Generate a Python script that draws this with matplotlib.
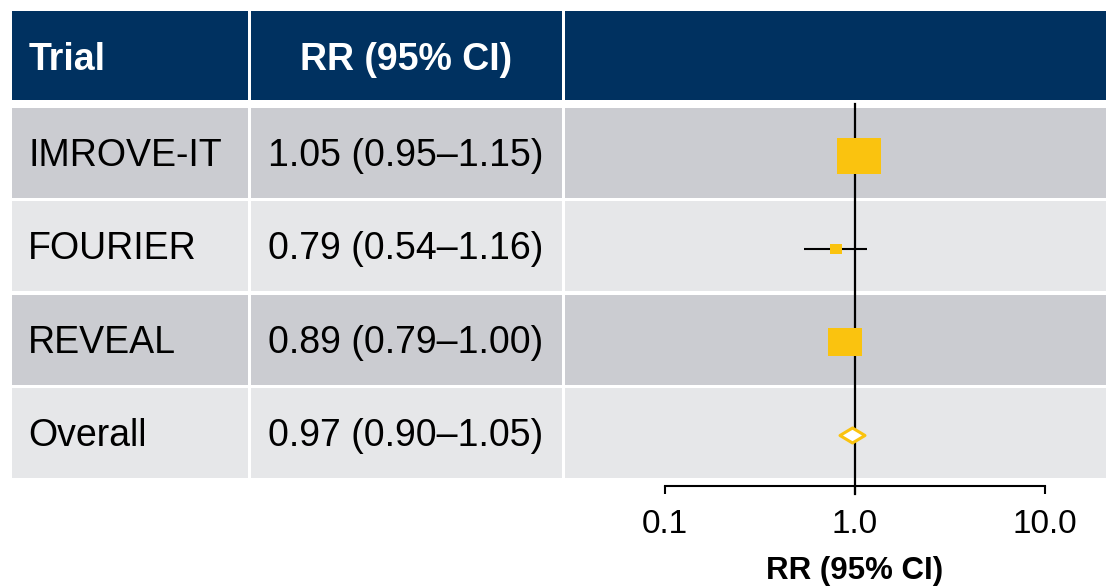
import numpy as np
import matplotlib
matplotlib.use("Agg")
import matplotlib.pyplot as plt
from matplotlib.patches import Rectangle
from matplotlib.path import Path

# ---- data -------------------------------------------------------------
trials = ["IMROVE-IT", "FOURIER", "REVEAL", "Overall"]
rr = [1.05, 0.79, 0.89, 0.97]
ci_low = [0.95, 0.54, 0.79, 0.90]
ci_high = [1.15, 1.16, 1.00, 1.05]
weights = [60, 5, 35]          # % weight of each trial in the pooled estimate
header = ["Trial", "RR (95% CI)"]
xticks = [0.1, 1.0, 10.0]
xtick_labels = ["0.1", "1.0", "10.0"]
x_label = "RR (95% CI)"

# ---- style ------------------------------------------------------------
plt.rcParams["font.family"] = ["Liberation Sans", "DejaVu Sans"]
NAVY = "#003160"
ROW_DARK = "#CBCCD1"
ROW_LIGHT = "#E6E7E9"
GOLD = "#FAC30F"
W, H = 1106, 586

fig = plt.figure(figsize=(W / 100, H / 100), dpi=100)

# ---- table background (pixel coordinates) -----------------------------
bg = fig.add_axes([0, 0, 1, 1])
bg.set_xlim(0, W)
bg.set_ylim(H, 0)
bg.axis("off")

col_left = [12, 250.5, 564.5]
col_right = [247.5, 562, W]
head_top, head_bot = 11, 100
row_top0, row_step, row_h = 107.5, 93.6, 90

for l, r in zip(col_left, col_right):
    bg.add_patch(Rectangle((l, head_top), r - l, head_bot - head_top,
                           facecolor=NAVY, edgecolor="none"))
for i in range(len(trials)):
    top = row_top0 + i * row_step
    shade = ROW_DARK if i % 2 == 0 else ROW_LIGHT
    for l, r in zip(col_left, col_right):
        bg.add_patch(Rectangle((l, top), r - l, row_h,
                               facecolor=shade, edgecolor="none"))

FS = 27
head_mid = (head_top + head_bot) / 2
bg.text(29, head_mid + 14, header[0], color="white", fontsize=FS,
        fontweight="bold", ha="left", va="baseline")
bg.text((col_left[1] + col_right[1]) / 2, head_mid + 14, header[1],
        color="white", fontsize=FS, fontweight="bold", ha="center",
        va="baseline")

for i, (name, m, lo, hi) in enumerate(zip(trials, rr, ci_low, ci_high)):
    yc = row_top0 + i * row_step + row_h / 2
    bg.text(28, yc + 13, name, fontsize=FS, color="black",
            ha="left", va="baseline")
    bg.text(268.5, yc + 13, f"{m:.2f} ({lo:.2f}\u2013{hi:.2f})",
            fontsize=FS, color="black", ha="left", va="baseline")

# ---- forest plot ------------------------------------------------------
# log axis: 1.0 sits at x=855 px, one decade spans 190 px
px_one, px_decade = 855, 190
fx0 = col_left[2]
ax = fig.add_axes([fx0 / W, 0, 1 - fx0 / W, 1])
ax.set_xscale("log")
ax.set_xlim(10 ** ((fx0 - px_one) / px_decade), 10 ** ((W - px_one) / px_decade))
# rows are 93 px apart, first row centred at 155.5 px
y0_px, dy_px = 155.5, 93
ax.set_ylim((H - y0_px) / dy_px, -y0_px / dy_px)
ax.patch.set_alpha(0)

ypos = np.arange(len(trials))
n_trials = len(weights)

# reference line at RR = 1
ax.axvline(1.0, ymin=(H - 494) / H, ymax=(H - 104) / H,
           color="black", lw=1.6, zorder=2)

# confidence intervals
ax.hlines(ypos[:n_trials], ci_low[:n_trials], ci_high[:n_trials],
          color="black", lw=1.5, zorder=3)

# weighted boxes (area proportional to weight)
box = Path([(-0.6, -0.5), (0.6, -0.5), (0.6, 0.5), (-0.6, 0.5), (-0.6, -0.5)],
           [Path.MOVETO, Path.LINETO, Path.LINETO, Path.LINETO, Path.CLOSEPOLY])
for y, m, w in zip(ypos[:n_trials], rr[:n_trials], weights):
    side_pt = 5.68 * np.sqrt(w) * 0.72
    ax.plot([m], [y], marker=box, markersize=side_pt, color=GOLD,
            markeredgewidth=0, linestyle="none", zorder=4)

# pooled estimate as an open diamond
diamond = Path([(-1, 0), (0, 0.6), (1, 0), (0, -0.6), (-1, 0)],
               [Path.MOVETO, Path.LINETO, Path.LINETO, Path.LINETO, Path.CLOSEPOLY])
ax.plot([rr[-1]], [ypos[-1]], marker=diamond, markersize=18, color=GOLD,
        markerfacecolor="white", markeredgecolor=GOLD, markeredgewidth=2.2,
        linestyle="none", zorder=4)

# x axis
for s in ["top", "left", "right"]:
    ax.spines[s].set_visible(False)
ax.spines["bottom"].set_position(("axes", (H - 486) / H))
ax.spines["bottom"].set_bounds(xticks[0], xticks[-1])
ax.spines["bottom"].set_linewidth(1.5)
ax.set_yticks([])
ax.set_xticks(xticks)
ax.set_xticklabels(xtick_labels)
ax.xaxis.set_minor_locator(matplotlib.ticker.NullLocator())
ax.tick_params(axis="x", direction="out", length=5.8, width=1.5,
               labelsize=24, pad=10.5, colors="black")
ax.set_xlabel(x_label, fontsize=22.5, fontweight="bold", labelpad=12)
# centre the axis title under RR = 1
ax.xaxis.label.set_x((px_one - fx0) / (W - fx0))

fig.savefig("out.png", dpi=100)
